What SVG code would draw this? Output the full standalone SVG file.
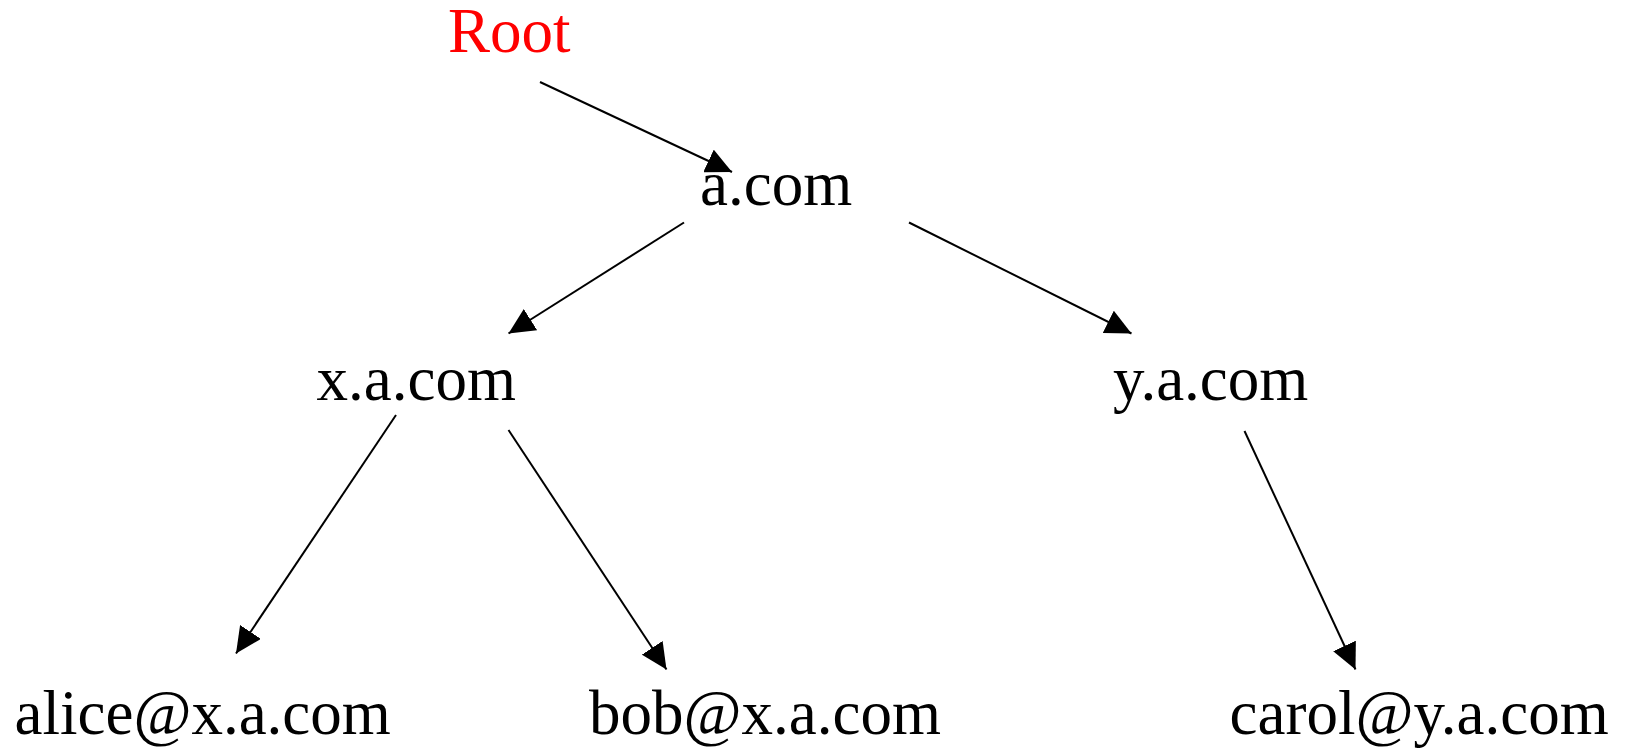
<svg xmlns="http://www.w3.org/2000/svg" width="1627" height="748" viewBox="0 0 1627 748">
  <style>
    .label { font-family: "Liberation Serif", "Times New Roman", serif; font-size: 63px; fill: #000; }
    .root { fill: #ff0000; }
    .edge { stroke: #000; stroke-width: 2; fill: none; marker-end: url(#arrow); }
  </style>
  <defs>
    <marker id="arrow" markerUnits="userSpaceOnUse" markerWidth="26" markerHeight="25" refX="26" refY="12.5" orient="auto">
      <path d="M0,0 L26,12.5 L0,25 Z" fill="#000"/>
    </marker>
  </defs>
  <rect width="1627" height="748" fill="#fff"/>

  <!-- hierarchy connectors -->
  <g id="connectors">
    <line class="edge" x1="540" y1="82" x2="732" y2="172"/>
    <line class="edge" x1="684" y1="222.5" x2="508.5" y2="333.5"/>
    <line class="edge" x1="909" y1="222.5" x2="1131.5" y2="333.5"/>
    <line class="edge" x1="396" y1="415" x2="236" y2="653.5"/>
    <line class="edge" x1="508.5" y1="430" x2="666.5" y2="669.5"/>
    <line class="edge" x1="1244.5" y1="431" x2="1355.5" y2="669.5"/>
  </g>

  <!-- name nodes -->
  <g id="node-root"><text class="label root" x="448" y="52">Root</text></g>
  <g id="node-a-com"><text class="label" x="700" y="205">a.com</text></g>
  <g id="node-x-a-com"><text class="label" x="316.5" y="399.5">x.a.com</text></g>
  <g id="node-y-a-com"><text class="label" x="1113" y="399.5">y.a.com</text></g>
  <g id="node-alice"><text class="label" x="14.5" y="733.5">alice@x.a.com</text></g>
  <g id="node-bob"><text class="label" x="589" y="733.5">bob@x.a.com</text></g>
  <g id="node-carol"><text class="label" x="1229.5" y="733.5">carol@y.a.com</text></g>
</svg>
